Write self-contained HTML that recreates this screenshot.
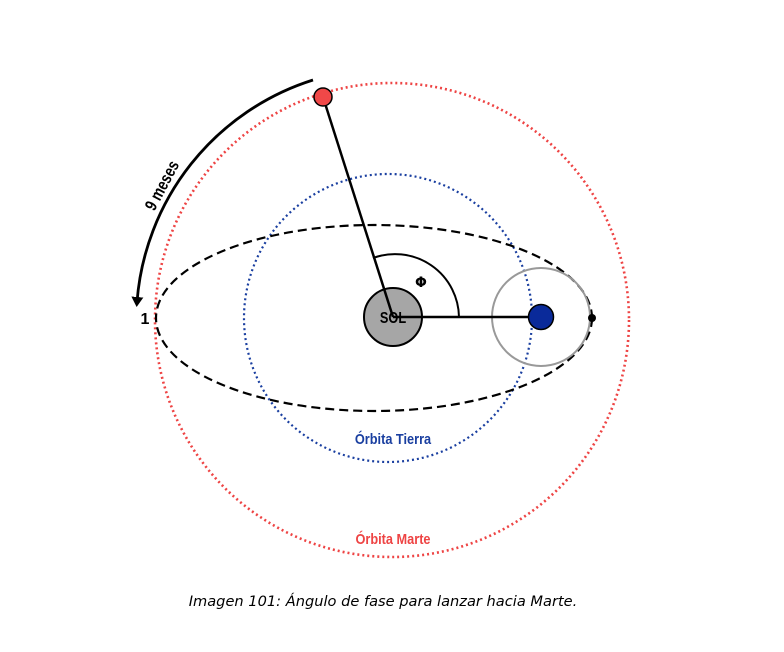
<!DOCTYPE html>
<html><head><meta charset="utf-8"><style>
html,body{margin:0;padding:0;background:#fff;}
svg{display:block}
</style></head><body>
<svg width="784" height="652" viewBox="0 0 784 652" xmlns="http://www.w3.org/2000/svg">
<defs>
<marker id="ah" markerWidth="10" markerHeight="12" refX="5" refY="6" orient="auto" markerUnits="userSpaceOnUse">
<path d="M0,0 L10,6 L0,12 Z" fill="#000"/>
</marker>
</defs>
<circle cx="392" cy="320" r="237" fill="none" stroke="#ee4444" stroke-width="2.6" stroke-dasharray="2 3"/>
<circle cx="388" cy="318" r="144" fill="none" stroke="#1a3fa0" stroke-width="2.2" stroke-dasharray="2 3"/>
<ellipse cx="374" cy="318" rx="218" ry="93" fill="none" stroke="#000" stroke-width="2.2" stroke-dasharray="9 5"/>
<circle cx="541" cy="317" r="49" fill="none" stroke="#999" stroke-width="2"/>
<path d="M313,80 A253,253 0 0 0 137,302" fill="none" stroke="#000" stroke-width="2.8" marker-end="url(#ah)"/>
<text x="0" y="0" transform="translate(163,186) rotate(-62) scale(0.8,1)" font-family="Liberation Sans, sans-serif" font-weight="bold" font-size="17" text-anchor="middle" dominant-baseline="middle" fill="#000">9 meses</text>
<text x="145" y="324" font-family="Liberation Sans, sans-serif" font-weight="bold" font-size="16" text-anchor="middle" fill="#000">1</text>
<path d="M373,258 A64,64 0 0 1 459,317" fill="none" stroke="#000" stroke-width="2"/>
<text x="421" y="287" font-family="DejaVu Sans, sans-serif" font-weight="bold" font-size="14" text-anchor="middle">Φ</text>
<circle cx="393" cy="317" r="29" fill="#a6a6a6" stroke="#000" stroke-width="2"/>
<text x="0" y="0" transform="translate(393,323) scale(0.8,1)" font-family="Liberation Sans, sans-serif" font-weight="bold" font-size="16" text-anchor="middle">SOL</text>
<line x1="393" y1="317" x2="323" y2="97" stroke="#000" stroke-width="2.5"/>
<line x1="393" y1="317" x2="541" y2="317" stroke="#000" stroke-width="2.5"/>
<circle cx="323" cy="97" r="9" fill="#f04848" stroke="#000" stroke-width="1.5"/>
<circle cx="541" cy="317" r="12.5" fill="#0a2a9a" stroke="#000" stroke-width="1.5"/>
<circle cx="592" cy="318" r="4" fill="#000"/>
<text x="0" y="0" transform="translate(393,444) scale(0.85,1)" font-family="Liberation Sans, sans-serif" font-weight="bold" font-size="15" text-anchor="middle" fill="#1a3fa0">Órbita Tierra</text>
<text x="0" y="0" transform="translate(393,544) scale(0.85,1)" font-family="Liberation Sans, sans-serif" font-weight="bold" font-size="15" text-anchor="middle" fill="#ee4444">Órbita Marte</text>
<text x="383" y="606" font-family="DejaVu Sans, sans-serif" font-style="italic" font-size="14.6" text-anchor="middle" fill="#000">Imagen 101: Ángulo de fase para lanzar hacia Marte.</text>
</svg>
</body></html>
